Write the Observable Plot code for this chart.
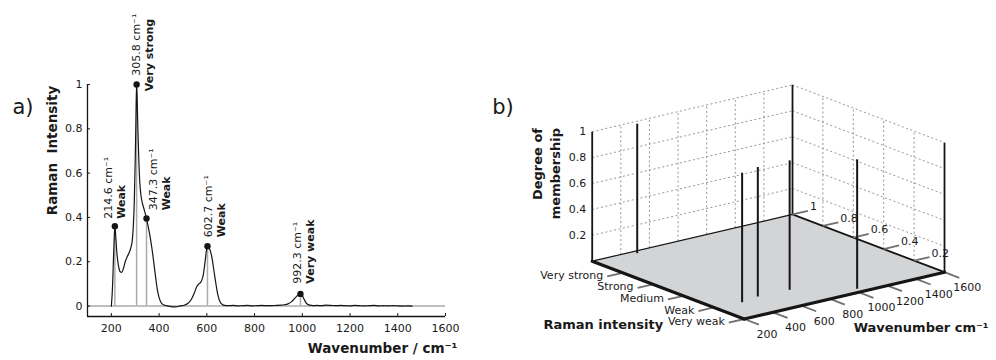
<!DOCTYPE html>
<html><head><meta charset="utf-8">
<script src="https://cdn.jsdelivr.net/npm/d3@7"></script>
<script src="https://cdn.jsdelivr.net/npm/@observablehq/plot@0.6"></script>
<style>
body{margin:0;background:#fff;}
#wrap{display:flex;width:996px;height:360px;}
#wrap svg{font-family:"DejaVu Sans";display:block;}
</style></head><body><div id="wrap"></div>
<script>
// ---------- Panel a data ----------
const xTicks = [200, 400, 600, 800, 1000, 1200, 1400, 1600];
const yTicks = [0, 0.2, 0.4, 0.6, 0.8, 1];
const spectrumWavenumber = [200,205,209,212,214.6,218,223,230,237,243,250,258,266,274,282,288,292,296,300,303,305.8,308,311,315,319,324,331,339,347.3,355,362,370,378,386,393,400,408,418,430,445,460,475,490,505,520,535,548,558,567,577,585,592,598,602.7,608,615,622,629,636,643,650,657,665,675,690,710,730,750,770,790,810,830,850,870,890,910,925,940,955,965,975,985,992.3,1000,1007,1014,1022,1032,1045,1060,1080,1100,1120,1140,1160,1180,1200,1220,1240,1260,1280,1300,1320,1340,1360,1380,1400,1420,1440,1460];
const spectrumIntensity = [0,0.09,0.22,0.31,0.36,0.32,0.24,0.18,0.155,0.152,0.168,0.2,0.222,0.24,0.265,0.3,0.36,0.47,0.66,0.85,1.0,0.94,0.8,0.66,0.56,0.5,0.46,0.43,0.395,0.355,0.315,0.26,0.195,0.125,0.072,0.038,0.016,0.006,0.002,-0.001,-0.004,-0.003,0.001,0.004,0.012,0.03,0.06,0.088,0.1,0.112,0.14,0.195,0.248,0.27,0.265,0.248,0.215,0.165,0.115,0.068,0.035,0.016,0.007,0.003,0.002,0.003,0.001,0.002,0.003,0.001,0.002,0.003,0.002,0.002,0.003,0.004,0.006,0.01,0.02,0.031,0.043,0.052,0.055,0.047,0.032,0.018,0.008,0.004,0.002,0.003,0.002,0.004,0.003,0.002,0.003,0.002,0.001,0.003,0.002,0.001,0.002,0.003,0.001,0.002,0.001,0.002,0.001,0,0.001,0];
const peakWavenumber = [214.6, 305.8, 347.3, 602.7, 992.3];
const peakIntensity = [0.36, 1.0, 0.395, 0.27, 0.055];
const peakClass = ["Weak", "Very strong", "Weak", "Weak", "Very weak"];
const labelWavenumber = [189, 305, 378, 608, 978];
const labelIntensity = [0.394, 1.04, 0.432, 0.311, 0.101];
const classIntensity = [0.394, 0.97, 0.432, 0.311, 0.101];

// ---------- Panel b data ----------
const wnTicks3d = [200, 400, 600, 800, 1000, 1200, 1400, 1600];
const intensityCategories = ["Very strong", "Strong", "Medium", "Weak", "Very weak"];
const intensityCategoryValues = [0.8, 0.6, 0.4, 0.2, 0];
const intensityNumTicks = [1, 0.8, 0.6, 0.4, 0.2];
const membershipTicks = [0.2, 0.4, 0.6, 0.8, 1];
const stemWavenumber = [382, 486, 515, 729, 1033];
const stemIntensity = [0.185, 0.973, 0.207, 0.199, 0.041];
const stemMembership = [1, 1, 1, 1, 1];

// ---------- Panel a ----------
const spectrum = spectrumWavenumber.map((w, i) => ({w, v: spectrumIntensity[i]}));
const peaks = peakWavenumber.map((w, i) => ({
  w, v: peakIntensity[i], cls: peakClass[i],
  lw: labelWavenumber[i], lv: labelIntensity[i], cv: classIntensity[i],
  txt: `${w.toFixed(1)} cm\u207B\u00B9`
}));
const yMin = -0.047;
const chartA = Plot.plot({
  width: 470, height: 360,
  marginLeft: 87, marginRight: 25, marginTop: 84, marginBottom: 44,
  x: {domain: [100, 1600]},
  y: {domain: [yMin, 1]},
  style: {fontFamily: "DejaVu Sans", fontSize: "11px", color: "#1a1a1a", background: "#fff", overflow: "visible"},
  marks: [
    Plot.ruleY([0], {stroke: "#ababab", strokeWidth: 1.5}),
    Plot.ruleX(peaks, {x: "w", y1: 0, y2: "v", stroke: "#ababab", strokeWidth: 1.5}),
    Plot.line(spectrum, {x: "w", y: "v", stroke: "#151515", strokeWidth: 1.2, curve: "monotone-x"}),
    Plot.dot(peaks, {x: "w", y: "v", r: 3.2, fill: "#151515"}),
    Plot.ruleX([100], {stroke: "#151515", strokeWidth: 1.3}),
    Plot.ruleY([yMin], {stroke: "#151515", strokeWidth: 1.3}),
    Plot.axisX(xTicks, {tickSize: -3, tickPadding: 11, label: null, tickFormat: d => String(d), fontSize: 11}),
    Plot.axisY(yTicks, {tickSize: -3, tickPadding: 8, label: null, tickFormat: d => String(d), fontSize: 11}),
    Plot.text(peaks, {x: "lw", y: "lv", text: "txt", rotate: -90, textAnchor: "start", fontSize: 11, fill: "#1a1a1a"}),
    Plot.text(peaks, {x: "lw", y: "cv", text: "cls", rotate: -90, textAnchor: "start", fontSize: 11, fontWeight: "bold", dx: 13, fill: "#1a1a1a"}),
    Plot.text(["Raman\u00A0 Intensity"], {frameAnchor: "top-left", dx: -40, dy: 66, rotate: -90, fontWeight: "bold", fontSize: 13.5, textAnchor: "middle", fill: "#1a1a1a"}),
    Plot.text(["Wavenumber / cm\u207B\u00B9"], {frameAnchor: "bottom-right", dx: 12, dy: 36, textAnchor: "end", fontWeight: "bold", fontSize: 13.5, fill: "#1a1a1a"}),
    Plot.text(["a)"], {frameAnchor: "top-left", dx: -75, dy: 15, textAnchor: "start", fontSize: 21, fill: "#1a1a1a"})
  ]
});

// ---------- Panel b (orthographic projection onto identity scales) ----------
const wFrac = d3.scaleLinear([200, 1600], [0, 1]);
const vFrac = d3.scaleLinear([1, 0], [0, 1]);
const origin = [121.7, 260.7], axW = [200.3, -46.8], axI = [152, 57.8], axZ = [0, -129.5];
function project(w, v, z) {
  const a = wFrac(w), b = vFrac(v);
  return [origin[0] + a * axW[0] + b * axI[0] + z * axZ[0], origin[1] + a * axW[1] + b * axI[1] + z * axZ[1]];
}
const seg = (p, q) => ({x1: p[0], y1: p[1], x2: q[0], y2: q[1]});
const wMin = 200, wMax = 1600, vBack = 1, vFront = 0;
const tickW = wFrac.invert(0.077) - wMin;   // tick length along wavenumber direction
const tickV = 0.097;                         // tick length along intensity direction

const floor = [project(wMin, vBack, 0), project(wMax, vBack, 0), project(wMax, vFront, 0), project(wMin, vFront, 0), project(wMin, vBack, 0)];

const grid = [];
membershipTicks.forEach(z => {
  grid.push(seg(project(wMin, vBack, z), project(wMax, vBack, z)));
  grid.push(seg(project(wMax, vBack, z), project(wMax, vFront, z)));
});
wnTicks3d.filter(w => w > wMin && w < wMax).forEach(w => grid.push(seg(project(w, vBack, 0), project(w, vBack, 1))));
intensityNumTicks.filter(v => v < vBack && v > vFront).forEach(v => grid.push(seg(project(wMax, v, 0), project(wMax, v, 1))));

const verticals = [
  seg(project(wMin, vBack, 0), project(wMin, vBack, 1)),
  seg(project(wMax, vBack, 0), project(wMax, vBack, 1)),
  seg(project(wMax, vFront, 0), project(wMax, vFront, 1))
];
const thinEdges = [seg(project(wMin, vBack, 0), project(wMax, vBack, 0))];
const midEdges = [seg(project(wMax, vBack, 0), project(wMax, vFront, 0))];
const thickEdges = [seg(project(wMin, vBack, 0), project(wMin, vFront, 0)), seg(project(wMin, vFront, 0), project(wMax, vFront, 0))];

const wnTickSegs = wnTicks3d.map(w => ({...seg(project(w, vFront, 0), project(w, vFront - tickV, 0)), label: String(w)}));
const catTickSegs = intensityCategoryValues.map((v, i) => ({...seg(project(wMin, v, 0), project(wMin - tickW, v, 0)), label: intensityCategories[i]}));
const numTickSegs = intensityNumTicks.map(v => ({...seg(project(wMax, v, 0), project(wMax + tickW, v, 0)), label: String(v)}));
const zLabels = membershipTicks.map(z => { const p = project(wMin, vBack, z); return {x: p[0], y: p[1], label: String(z)}; });
const stems = stemWavenumber.map((w, i) => seg(project(w, stemIntensity[i], 0), project(w, stemIntensity[i], stemMembership[i])));

const front = project(wMin, vFront, 0);
const midW = project(1000, vFront, 0);
const topLeft = project(wMin, vBack, 1);

const tickColor = "#707070";
const chartB = Plot.plot({
  width: 526, height: 360,
  marginLeft: 0, marginRight: 0, marginTop: 0, marginBottom: 0,
  x: {type: "identity", axis: null},
  y: {type: "identity", axis: null},
  style: {fontFamily: "DejaVu Sans", fontSize: "11px", color: "#1a1a1a", background: "#fff", overflow: "visible"},
  marks: [
    Plot.line(floor, {x: d => d[0], y: d => d[1], fill: "#d3d4d6", stroke: "none"}),
    Plot.link(grid, {x1: "x1", y1: "y1", x2: "x2", y2: "y2", stroke: "#8a8a8a", strokeWidth: 0.9, strokeDasharray: "2,2.5"}),
    Plot.link(thinEdges, {x1: "x1", y1: "y1", x2: "x2", y2: "y2", stroke: "#151515", strokeWidth: 1.2}),
    Plot.link(midEdges, {x1: "x1", y1: "y1", x2: "x2", y2: "y2", stroke: "#151515", strokeWidth: 1.8}),
    Plot.link(verticals, {x1: "x1", y1: "y1", x2: "x2", y2: "y2", stroke: "#151515", strokeWidth: 1.8}),
    Plot.link(wnTickSegs, {x1: "x1", y1: "y1", x2: "x2", y2: "y2", stroke: tickColor, strokeWidth: 1.8}),
    Plot.link(catTickSegs, {x1: "x1", y1: "y1", x2: "x2", y2: "y2", stroke: tickColor, strokeWidth: 1.8}),
    Plot.link(numTickSegs, {x1: "x1", y1: "y1", x2: "x2", y2: "y2", stroke: tickColor, strokeWidth: 1.8}),
    Plot.link(thickEdges, {x1: "x1", y1: "y1", x2: "x2", y2: "y2", stroke: "#151515", strokeWidth: 3.2, strokeLinecap: "round"}),
    Plot.link(stems, {x1: "x1", y1: "y1", x2: "x2", y2: "y2", stroke: "#151515", strokeWidth: 2}),
    Plot.text(wnTickSegs, {x: "x2", y: "y2", text: "label", dx: 8, dy: 10, textAnchor: "middle", fontSize: 11, fill: "#1a1a1a"}),
    Plot.text(catTickSegs, {x: "x2", y: "y2", text: "label", dx: -4, dy: -1, textAnchor: "end", fontSize: 11, fill: "#1a1a1a"}),
    Plot.text(numTickSegs, {x: "x2", y: "y2", text: "label", dx: 2, dy: -4, textAnchor: "start", fontSize: 11, fill: "#1a1a1a"}),
    Plot.text(zLabels, {x: "x", y: "y", text: "label", dx: -6, textAnchor: "end", fontSize: 11, fill: "#1a1a1a"}),
    Plot.text(["Degree of\nmembership"], {x: topLeft[0], y: topLeft[1], dx: -46.8, dy: -3.7, rotate: -90, textAnchor: "end", lineAnchor: "middle", lineHeight: 1.4, fontWeight: "bold", fontSize: 13, fill: "#1a1a1a"}),
    Plot.text(["Raman intensity"], {x: front[0], y: front[1], dx: -81, dy: 6, textAnchor: "end", fontWeight: "bold", fontSize: 13, fill: "#1a1a1a"}),
    Plot.text(["Wavenumber cm\u207B\u00B9"], {x: midW[0], y: midW[1], dx: -5, dy: 36, textAnchor: "start", fontWeight: "bold", fontSize: 13, fill: "#1a1a1a"}),
    Plot.text(["b)"], {frameAnchor: "top-left", dx: 21.7, dy: 98.5, textAnchor: "start", fontSize: 21, fill: "#1a1a1a"})
  ]
});

const wrap = document.getElementById("wrap");
wrap.appendChild(chartA);
wrap.appendChild(chartB);
</script></body></html>
